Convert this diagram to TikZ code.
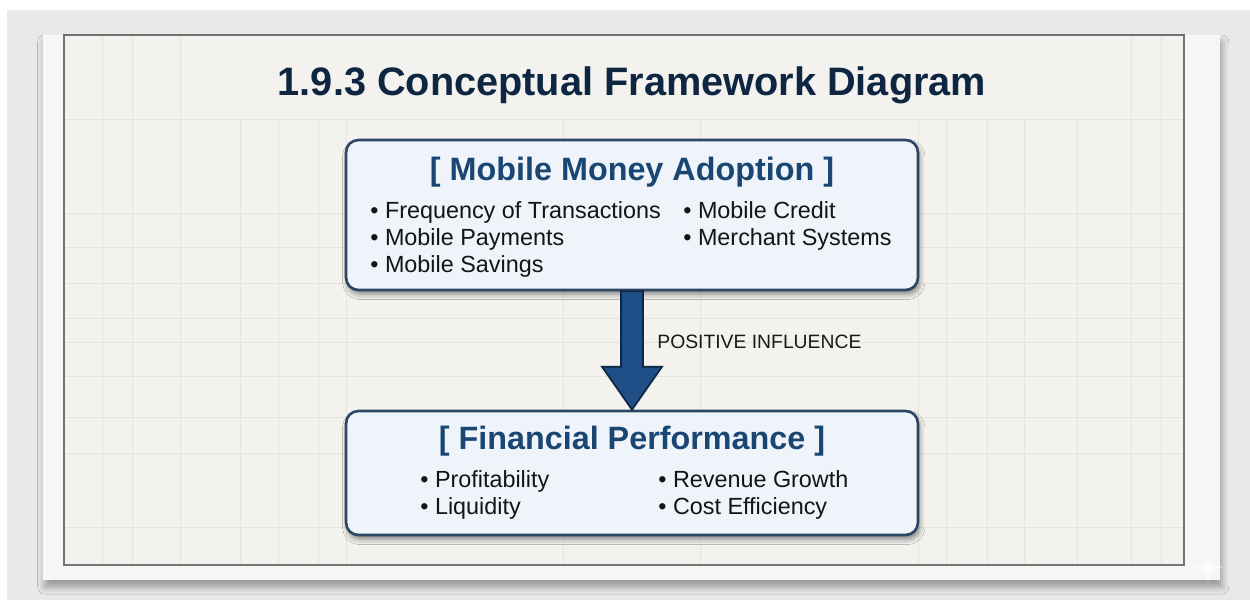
\documentclass[tikz,border=0pt]{standalone}
\usepackage{fontspec}
\setmainfont{Liberation Sans}
\usetikzlibrary{calc,positioning,shadows.blur}

\definecolor{navy}{HTML}{0F2642}
\definecolor{headblue}{HTML}{1A4674}
\definecolor{boxline}{HTML}{2B4763}
\definecolor{boxfill}{HTML}{EEF4F9}
\definecolor{desk}{HTML}{E9E9E8}
\definecolor{sheet}{HTML}{F6F6F5}
\definecolor{paper}{HTML}{F3F2EE}
\definecolor{gridline}{HTML}{E6E4DE}
\definecolor{arrowblue}{HTML}{1F4E86}
\definecolor{arrowline}{HTML}{0E2744}

\tikzset{
    framebox/.style={draw=boxline, line width=1.5pt, fill=boxfill,
        rounded corners=7pt, minimum width=11.44cm,
        blur shadow={shadow xshift=1pt, shadow yshift=-2.5pt,
            shadow blur radius=3pt, shadow opacity=45}},
    boxhead/.style={font=\bfseries\fontsize{18.4}{22}\selectfont,
        text=headblue, anchor=base, inner sep=0pt},
    item/.style={font=\fontsize{13.3}{16}\selectfont, text=black!92,
        anchor=base west, inner sep=0pt},
    gridln/.style={gridline, line width=0.5pt},
    flowarrow/.style={fill=arrowblue, draw=arrowline, line width=1pt,
        line join=miter},
}

\begin{document}
\begin{tikzpicture}[x=0.02cm, y=-0.02cm]
        \useasboundingbox (0,0) rectangle (1250,600);
        \fill[desk] (0,0) rectangle (1250,600);
        \fill[white] (0,0) rectangle (1250,10);
        \fill[white] (0,0) rectangle (7,600);

        % sheet of paper with its grid
        \fill[sheet, blur shadow={shadow xshift=1pt, shadow yshift=-4pt,
            shadow blur radius=4pt, shadow opacity=35}]
            (43,35) rectangle (1220,580);
        \fill[paper] (64,35) rectangle (1184,565);
        \foreach \gx in {102,132,180,1131,1161}
            \draw[gridln] (\gx,35) -- (\gx,565);
        \foreach \gx in {240,278,318,346,563,700,918,946,987,1024,1077}
            \draw[gridln] (\gx,119) -- (\gx,565);
        \foreach \gy in {119,213,247,283,318,342,376,417,453,527}
            \draw[gridln] (64,\gy) -- (1184,\gy);
        \draw[black!55, line width=0.6pt] (64,35) rectangle (1184,565);

        \node[font=\bfseries\fontsize{22.6}{27}\selectfont, text=navy,
            anchor=base, inner sep=0pt] (title) at (632,95)
            {1.9.3 Conceptual Framework Diagram};

        \node[framebox, minimum height=3.0cm] (adopt) at (632,215) {};
        \node[framebox, minimum height=2.48cm] (perf) at (632,473) {};

        % the influence arrow between the two blocks
        \filldraw[flowarrow] ($(adopt.south)+(-11,0)$)
            -- ($(perf.north)+(-11,-43)$) -- ($(perf.north)+(-30,-43)$)
            -- (perf.north)
            -- ($(perf.north)+(30,-43)$) -- ($(perf.north)+(11,-43)$)
            -- ($(adopt.south)+(11,0)$) -- cycle;
        \node[font=\fontsize{11}{13}\selectfont, text=black!90,
            anchor=base west, inner sep=0pt] (infl) at (657,348)
            {POSITIVE INFLUENCE};

        \node[boxhead] (adopthead) at (632,180) {[ Mobile Money Adoption ]};
        \node[item] (freq) at (370,218) {\textbullet{} Frequency of Transactions};
        \node[item] (pay) at (370,245) {\textbullet{} Mobile Payments};
        \node[item] (save) at (370,272) {\textbullet{} Mobile Savings};
        \node[item] (credit) at (683,218) {\textbullet{} Mobile Credit};
        \node[item] (merch) at (683,245) {\textbullet{} Merchant Systems};

        \node[boxhead] (perfhead) at (632,449) {[ Financial Performance ]};
        \node[item] (profit) at (420,487) {\textbullet{} Profitability};
        \node[item] (liquid) at (420,514) {\textbullet{} Liquidity};
        \node[item] (revenue) at (658,487) {\textbullet{} Revenue Growth};
        \node[item] (cost) at (658,514) {\textbullet{} Cost Efficiency};

        % small sparkle in the corner
        \fill[white, opacity=0.75] (1208,551) .. controls (1209,565) .. (1224,567)
            .. controls (1209,569) .. (1208,584)
            .. controls (1207,569) .. (1192,567)
            .. controls (1207,565) .. (1208,551) -- cycle;
    \end{tikzpicture}
\end{document}
